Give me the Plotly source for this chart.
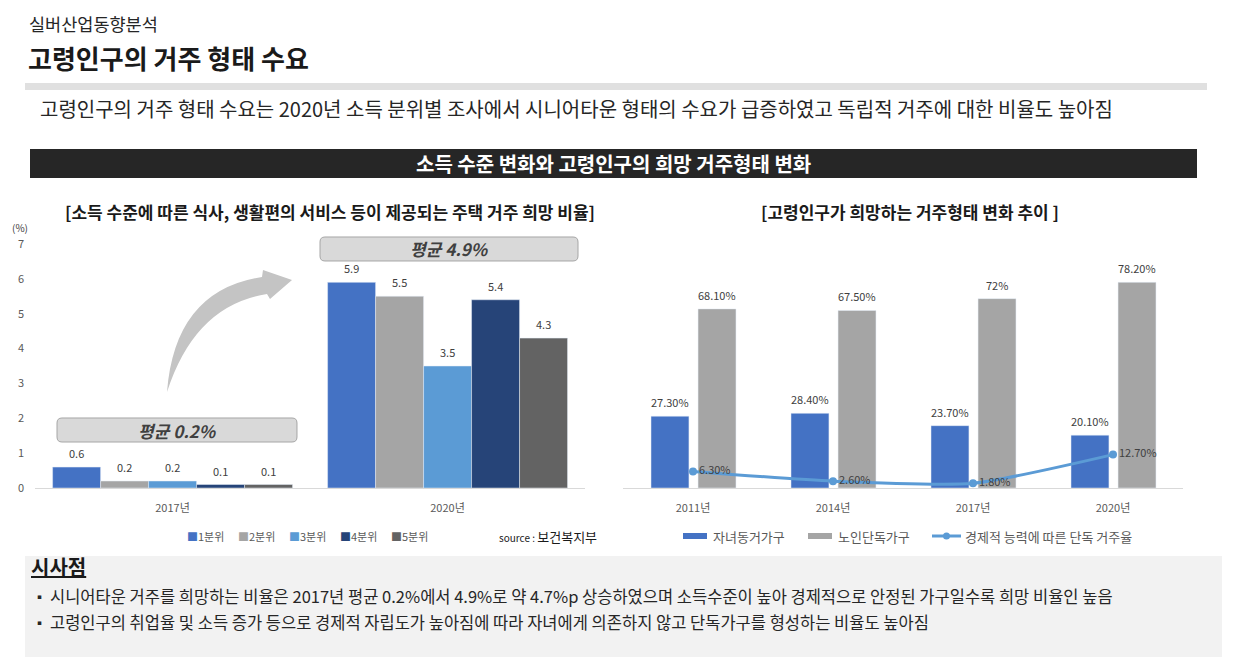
import plotly.graph_objects as go

W, H = 1236, 671
FONT = "Noto Sans CJK KR"

# ---------------- data ----------------
years_left = ["2017년", "2020년"]
quintiles = ["1분위", "2분위", "3분위", "4분위", "5분위"]
q_values = [
    [0.6, 5.9],
    [0.2, 5.5],
    [0.2, 3.5],
    [0.1, 5.4],
    [0.1, 4.3],
]
q_colors = ["#4472C4", "#A5A5A5", "#5B9BD5", "#264478", "#636363"]
left_yticks = [0, 1, 2, 3, 4, 5, 6, 7]

years_right = ["2011년", "2014년", "2017년", "2020년"]
with_children = [27.3, 28.4, 23.7, 20.1]
with_children_labels = ["27.30%", "28.40%", "23.70%", "20.10%"]
elderly_alone = [68.1, 67.5, 72.0, 78.2]
elderly_alone_labels = ["68.10%", "67.50%", "72%", "78.20%"]
econ_alone = [6.3, 2.6, 1.8, 12.7]
econ_alone_labels = ["6.30%", "2.60%", "1.80%", "12.70%"]
right_series = ["자녀동거가구", "노인단독가구", "경제적 능력에 따른 단독 거주율"]


def px(x):
    return x / W


def py(y):
    return 1 - y / H


fig = go.Figure()

# ---------------- left chart ----------------
bw_l = 0.1745
start_l = -0.436
for i, (name, vals, col) in enumerate(zip(quintiles, q_values, q_colors)):
    off = start_l + i * bw_l
    fig.add_trace(go.Bar(
        x=years_left, y=vals, name=name, marker_color=col,
        width=bw_l, offset=off, xaxis="x", yaxis="y", showlegend=False,
        hoverinfo="skip",
    ))
    for j, v in enumerate(vals):
        fig.add_annotation(
            x=j + off + bw_l / 2, y=v, xref="x", yref="y", text=f"{v}",
            showarrow=False, yshift=14, yanchor="middle",
            font=dict(family=FONT, size=11, color="#404040"),
        )

# ---------------- right chart ----------------
bw_r = 0.271
offs_r = [-0.30, 0.036]
for k, (name, vals, labs, col) in enumerate([
    (right_series[0], with_children, with_children_labels, "#4472C4"),
    (right_series[1], elderly_alone, elderly_alone_labels, "#A5A5A5"),
]):
    fig.add_trace(go.Bar(
        x=years_right, y=vals, name=name, marker_color=col,
        width=bw_r, offset=offs_r[k], xaxis="x2", yaxis="y2", showlegend=False,
        hoverinfo="skip",
    ))
    for j, (v, lab) in enumerate(zip(vals, labs)):
        fig.add_annotation(
            x=j + offs_r[k] + bw_r / 2, y=v, xref="x2", yref="y2", text=lab,
            showarrow=False, yshift=14, yanchor="middle",
            font=dict(family=FONT, size=11, color="#404040"),
        )

fig.add_trace(go.Scatter(
    x=years_right, y=econ_alone, name=right_series[2], mode="lines+markers+text",
    text=econ_alone_labels, textposition="middle right",
    textfont=dict(family=FONT, size=11, color="#404040"),
    line=dict(color="#5B9BD5", width=3, shape="spline", smoothing=0.6),
    marker=dict(color="#5B9BD5", size=8),
    xaxis="x2", yaxis="y2", showlegend=False, hoverinfo="skip",
))

# ---------------- shapes ----------------
shapes = []


def rect(x0, y0, x1, y1, fill, line=None):
    shapes.append(dict(type="rect", xref="paper", yref="paper",
                       x0=px(x0), x1=px(x1), y0=py(y1), y1=py(y0),
                       fillcolor=fill, line=dict(width=0 if line is None else 1,
                                                 color=line or fill),
                       layer="below"))


def rrect(x0, y0, x1, y1, r, fill, line):
    pts = [
        ("M", [(x0 + r, y0)]), ("L", [(x1 - r, y0)]), ("Q", [(x1, y0), (x1, y0 + r)]),
        ("L", [(x1, y1 - r)]), ("Q", [(x1, y1), (x1 - r, y1)]),
        ("L", [(x0 + r, y1)]), ("Q", [(x0, y1), (x0, y1 - r)]),
        ("L", [(x0, y0 + r)]), ("Q", [(x0, y0), (x0 + r, y0)]),
    ]
    p = ""
    for cmd, cs in pts:
        p += cmd + " " + " ".join(f"{px(a):.5f},{py(b):.5f}" for a, b in cs) + " "
    p += "Z"
    shapes.append(dict(type="path", xref="paper", yref="paper", path=p,
                       fillcolor=fill, line=dict(color=line, width=1), layer="above"))


def path_px(cmds, fill):
    p = ""
    for cmd, cs in cmds:
        p += cmd + " " + " ".join(f"{px(a):.5f},{py(b):.5f}" for a, b in cs) + " "
    p += "Z"
    shapes.append(dict(type="path", xref="paper", yref="paper", path=p,
                       fillcolor=fill, line=dict(width=0), layer="above"))


rect(25, 83, 1207, 90, "#E0E0E0")
rect(30, 149, 1197, 178, "#262626")
rect(25, 556, 1222, 657, "#F2F2F2")

# average banners
rrect(320, 237, 578, 261, 5, "#D9D9D9", "#A6A6A6")
rrect(57, 418, 297, 442, 5, "#D9D9D9", "#A6A6A6")

# curved arrow
path_px([
    ("M", [(167, 392)]),
    ("Q", [(175, 290), (262, 277)]),
    ("L", [(263, 270)]),
    ("L", [(292, 280)]),
    ("L", [(270, 299)]),
    ("L", [(267, 294)]),
    ("Q", [(195, 305), (167, 392)]),
], "#C4C4C4")

# right legend symbols
shapes.append(dict(type="rect", xref="paper", yref="paper", x0=px(683), x1=px(707),
                   y0=py(539), y1=py(533), fillcolor="#4472C4", line=dict(width=0)))
shapes.append(dict(type="rect", xref="paper", yref="paper", x0=px(808), x1=px(832),
                   y0=py(539), y1=py(533), fillcolor="#A5A5A5", line=dict(width=0)))
shapes.append(dict(type="line", xref="paper", yref="paper", x0=px(932), x1=px(961),
                   y0=py(536), y1=py(536), line=dict(color="#5B9BD5", width=3)))
shapes.append(dict(type="circle", xref="paper", yref="paper", x0=px(943), x1=px(950),
                   y0=py(539.5), y1=py(532.5), fillcolor="#5B9BD5", line=dict(width=0)))

# ---------------- text annotations ----------------
ann = []


def text(x, y, s, size, color="#262626", bold=False, xanchor="left", italic=False,
         underline=False):
    t = s
    if bold:
        t = f"<b>{t}</b>"
    if italic:
        t = f"<i>{t}</i>"
    f = dict(family=FONT, size=size, color=color)
    if underline:
        f["lineposition"] = "under"
    ann.append(dict(x=px(x), y=py(y), xref="paper", yref="paper", text=t,
                    showarrow=False, xanchor=xanchor, yanchor="middle", font=f))


text(27, 24, "실버산업동향분석", 17.5, "#262626")
text(26, 57, "고령인구의 거주 형태 수요", 26, "#1A1A1A", bold=True)
text(38, 108, "고령인구의 거주 형태 수요는 2020년 소득 분위별 조사에서 시니어타운 형태의 수요가 급증하였고 독립적 거주에 대한 비율도 높아짐",
     20, "#262626")
text(613, 163, "소득 수준 변화와 고령인구의 희망 거주형태 변화", 20, "#FFFFFF", bold=True,
     xanchor="center")
text(330, 211, "[소득 수준에 따른 식사, 생활편의 서비스 등이 제공되는 주택 거주 희망 비율]", 17,
     "#1A1A1A", bold=True, xanchor="center")
text(910, 211, "[고령인구가 희망하는 거주형태 변화 추이 ]", 17, "#1A1A1A", bold=True,
     xanchor="center")
text(20, 227, "(%)", 10, "#404040", xanchor="center")

text(449, 249, "평균 4.9%", 17, "#404040", bold=True, italic=True, xanchor="center")
text(177, 430, "평균 0.2%", 17, "#404040", bold=True, italic=True, xanchor="center")

# left legend
leg_x = [185, 236, 287, 338, 389]
for xx, name, col in zip(leg_x, quintiles, q_colors):
    ann.append(dict(x=px(xx), y=py(536), xref="paper", yref="paper",
                    text=f"<span style='color:{col}'>■</span>{name}", showarrow=False,
                    xanchor="left", yanchor="middle",
                    font=dict(family=FONT, size=11, color="#595959")))
text(497, 536, "source : <span style='font-size:13px;color:#1A1A1A'>보건복지부</span>", 10,
     "#1A1A1A")

# right legend text
text(711, 536, right_series[0], 13, "#595959")
text(836, 536, right_series[1], 13, "#595959")
text(963, 536, right_series[2], 13, "#595959")

# bottom box text
text(29, 566, "시사점", 20, "#1A1A1A", bold=True, underline=True)
text(31, 596, "▪", 13, "#262626")
text(48, 596, "시니어타운 거주를 희망하는 비율은 2017년 평균 0.2%에서 4.9%로 약 4.7%p 상승하였으며 소득수준이 높아 경제적으로 안정된 가구일수록 희망 비율인 높음",
     16.5, "#262626")
text(31, 622, "▪", 13, "#262626")
text(48, 622, "고령인구의 취업율 및 소득 증가 등으로 경제적 자립도가 높아짐에 따라 자녀에게 의존하지 않고 단독가구를 형성하는 비율도 높아짐",
     16.5, "#262626")

fig.update_layout(
    width=W, height=H, margin=dict(l=0, r=0, t=0, b=0, pad=0, autoexpand=False),
    paper_bgcolor="white", plot_bgcolor="white",
    barmode="overlay", showlegend=False,
    shapes=shapes, annotations=list(fig.layout.annotations) + ann,
    font=dict(family=FONT),
    xaxis=dict(domain=[px(35), px(585)], anchor="y", type="category", automargin=False,
               range=[-0.5, 1.5], showline=True, linecolor="#D9D9D9", linewidth=1,
               ticks="", showgrid=False, ticklabelstandoff=10,
               tickfont=dict(family=FONT, size=11, color="#595959")),
    yaxis=dict(domain=[py(488), py(244)], anchor="x", range=[0, 7], automargin=False,
               tickvals=left_yticks, showgrid=False, zeroline=False, showline=False,
               ticks="", ticklabelstandoff=10,
               tickfont=dict(family=FONT, size=11, color="#595959")),
    xaxis2=dict(domain=[px(623), px(1183)], anchor="y2", type="category", automargin=False,
                range=[-0.5, 3.5], showline=True, linecolor="#D9D9D9", linewidth=1,
                ticks="", showgrid=False, ticklabelstandoff=10,
                tickfont=dict(family=FONT, size=11, color="#595959")),
    yaxis2=dict(domain=[py(488), py(244)], anchor="x2", range=[0, (488 - 244) / 2.63],
                visible=False, automargin=False),
)

fig.write_html("out.html", config={"displayModeBar": False},
               post_script="document.body.style.margin='0';document.body.style.overflow='hidden';")
